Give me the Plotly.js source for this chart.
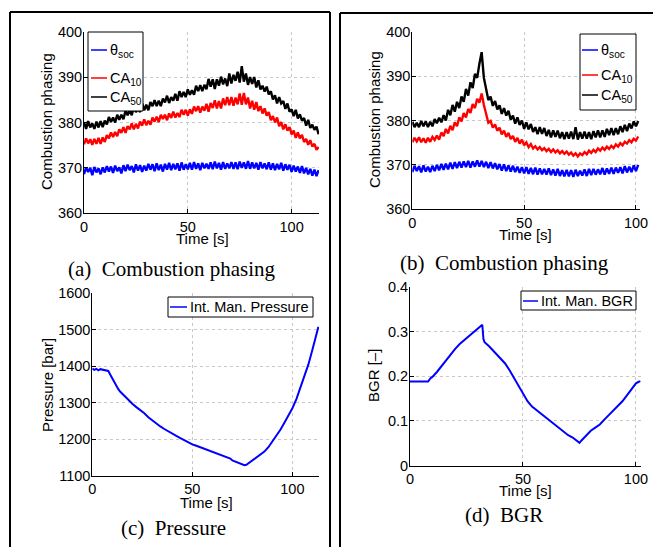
<!DOCTYPE html>
<html>
<head>
<meta charset="utf-8">
<script src="https://cdn.plot.ly/plotly-3.0.1.min.js"></script>
<style>html,body{margin:0;padding:0;background:#fff;}#chart{width:653px;height:547px;}</style>
</head>
<body>
<div id="chart"></div>
<script>
// ---------- DATA ----------
// (a) sampled every 1 s, t = 0..113
const socA = [368.6,370.1,369.1,370.0,368.4,370.2,369.0,369.9,368.6,370.1,
369.0,370.4,369.2,370.3,368.9,370.5,369.3,370.1,368.8,370.6,
369.3,370.7,369.5,370.4,369.0,370.8,369.4,370.6,369.1,370.5,
369.4,370.9,369.6,370.8,369.3,371.0,369.5,370.7,369.2,370.9,
369.6,371.1,369.5,370.9,369.7,371.0,369.4,371.2,369.6,370.8,
369.7,371.1,369.6,371.3,369.8,371.0,369.5,371.1,369.9,370.9,
369.8,371.2,369.7,371.4,369.9,371.1,369.6,371.3,369.8,371.0,
369.9,371.3,369.8,371.2,369.7,371.4,370.0,371.2,369.8,371.5,
369.8,371.2,369.9,371.1,369.6,371.3,369.9,371.0,369.7,371.2,
369.6,371.0,369.5,370.9,369.7,371.1,369.4,370.8,369.6,370.7,
369.1,370.5,369.2,370.3,368.9,370.4,368.8,370.0,368.6,369.8,
368.3,369.6,368.2,369.5];
const ca10A = [375.2,376.5,375.4,376.3,375.1,376.4,375.3,376.6,375.3,376.7,
375.7,377.2,376.5,377.8,376.8,377.9,377.0,378.5,377.7,379.0,
377.7,379.2,378.5,379.8,378.5,379.7,378.7,380.2,379.3,380.7,
379.4,380.4,379.5,381.1,380.2,381.3,380.1,381.7,380.8,381.7,
380.5,382.0,381.0,382.4,381.1,382.1,381.2,382.8,381.7,382.8,
381.5,382.9,381.9,383.5,382.5,383.6,382.2,383.5,382.6,384.1,
382.4,384.3,383.2,384.9,383.1,384.7,383.1,385.3,383.8,385.6,
383.8,385.6,383.7,385.5,384.0,386.4,383.9,386.5,384.0,385.5,
383.1,384.8,382.8,384.5,382.5,383.6,382.0,383.1,381.5,382.3,
380.5,381.4,380.0,381.1,379.2,380.1,378.5,379.6,378.2,379.0,
377.4,378.2,376.6,377.8,376.5,377.3,375.7,376.4,375.1,376.1,
374.7,375.3,374.0,374.6];
const ca50A = [380.1,378.6,380.3,378.9,379.8,378.6,380.2,378.9,380.3,379.0,
380.4,379.6,381.2,380.1,381.1,380.0,381.7,380.6,381.7,380.7,
382.6,381.6,382.8,381.6,383.5,382.3,383.1,382.3,384.2,382.7,
383.9,382.7,384.5,383.6,384.9,383.6,384.8,383.6,385.3,384.4,
385.9,384.3,385.6,384.8,386.3,384.8,386.9,385.6,386.7,385.6,
387.3,386.1,387.1,386.1,388.1,386.9,388.2,386.9,388.3,387.3,
389.6,387.9,389.5,387.4,389.5,388.1,390.1,388.4,389.7,388.0,
390.8,388.6,390.5,389.2,391.2,388.8,392.4,389.0,390.8,388.3,
390.0,388.5,390.0,387.7,389.3,387.3,388.1,386.8,387.9,386.2,
386.9,385.1,386.0,384.2,385.6,384.2,384.7,383.0,384.2,382.4,
382.9,381.4,382.8,380.9,381.8,380.4,381.0,379.3,380.6,378.8,
379.5,378.4,379.1,377.4];
// (b) sampled every 1 s, t = 0..101
const socB = [368.4,369.8,368.6,369.7,368.3,369.9,368.5,369.6,368.4,369.8,
368.6,370.0,368.8,370.2,368.9,370.3,369.0,370.5,369.1,370.6,
369.3,370.7,369.4,370.8,369.5,370.9,369.4,370.8,369.6,371.0,
369.6,370.9,369.5,370.7,369.3,370.6,369.2,370.4,369.0,370.2,
368.7,370.1,368.6,369.9,368.5,369.8,368.4,369.6,368.2,369.5,
368.1,369.5,368.0,369.3,367.9,369.4,367.8,369.2,367.9,369.1,
367.8,369.2,367.7,369.0,367.6,369.1,367.5,368.8,367.4,368.9,
367.4,368.8,367.3,368.9,367.5,368.7,367.6,369.0,367.5,369.1,
367.7,369.1,367.8,369.0,367.9,369.3,367.8,369.2,368.0,369.4,
368.0,369.4,368.2,369.5,368.1,369.7,368.3,369.6,368.4,369.9,
368.6,370.0];
const ca10B = [375.1,376.1,375.3,376.2,375.1,376.0,375.0,376.1,375.2,376.3,
375.6,376.6,375.7,377.3,376.5,378.1,377.1,378.8,377.8,379.6,
378.7,380.7,379.8,381.7,380.7,382.6,381.7,383.7,382.8,384.9,
384.0,386.1,383.5,381.2,379.5,379.9,378.4,379.1,377.7,378.4,
376.9,377.7,376.3,377.2,375.8,376.5,375.2,376.1,374.8,375.7,
374.4,375.1,374.0,374.7,373.7,374.2,373.5,374.0,373.3,373.8,
373.1,373.6,372.9,373.5,372.8,373.3,372.6,373.1,372.5,373.0,
372.3,372.8,372.1,372.6,371.9,372.6,372.2,372.9,372.4,373.2,
372.7,373.4,372.9,373.7,373.2,373.9,373.4,374.1,373.6,374.3,
373.8,374.6,374.1,374.9,374.4,375.2,374.8,375.6,375.1,375.9,
375.5,376.4];
const ca50B = [379.7,378.5,379.5,378.5,379.9,378.7,379.8,378.5,379.7,378.7,
380.3,379.4,380.6,379.6,381.2,380.0,382.4,381.2,383.5,382.0,
384.2,382.8,385.4,384.2,387.1,385.6,388.6,387.3,390.5,389.6,
392.8,395.4,389.6,386.9,384.6,385.4,383.3,384.4,382.5,383.4,
381.5,382.8,381.1,382.2,380.2,381.1,379.3,380.7,379.0,380.0,
378.1,379.6,378.0,379.2,377.4,378.5,376.9,378.5,377.0,378.3,
376.5,377.9,376.2,377.8,376.3,377.7,376.0,377.4,375.8,377.4,
375.9,377.5,375.8,378.5,375.7,377.4,375.9,377.5,375.9,377.4,
375.8,377.6,376.2,377.8,376.2,377.8,376.3,378.1,376.7,378.3,
376.7,378.3,376.9,378.7,377.4,379.0,377.6,379.3,378.2,379.8,
378.7,379.9];
// (c) intake manifold pressure
const timeC = [0,1,2,3,4,5,6,7,8,9,10,11,12,13,14,16,18,20,22,24,26,28,30,32,34,36,38,40,42,44,46,48,50,52,54,56,58,60,62,64,66,68,69,70,72,74,76,77,78,80,82,84,86,88,90,92,94,96,98,100,102,104,106,108,110,111,112,113];
const pressC = [1394,1390,1393,1389,1392,1391,1390,1390,1387,1377,1366,1356,1346,1337,1330,1318,1307,1297,1288,1280,1271,1260,1251,1244,1235,1228,1221,1214,1209,1203,1197,1191,1186,1182,1178,1174,1170,1166,1162,1157,1153,1151,1147,1142,1137,1133,1129,1130,1134,1141,1148,1156,1166,1178,1193,1208,1226,1245,1264,1285,1310,1340,1372,1405,1445,1466,1487,1508];
// (d) intake manifold BGR
const timeD = [0,2,4,6,8,9,10,12,14,16,18,20,22,24,26,28,30,31,32,32.5,33,35,38,40,42,44,46,48,50,52,54,56,58,60,62,64,66,68,70,72,74,75,76,78,80,82,84,86,88,90,92,94,96,98,100,101,102];
const bgrD = [0.188,0.188,0.187,0.188,0.188,0.195,0.199,0.210,0.223,0.236,0.248,0.261,0.272,0.281,0.289,0.297,0.306,0.311,0.315,0.283,0.276,0.267,0.251,0.241,0.229,0.214,0.197,0.180,0.161,0.144,0.132,0.124,0.116,0.109,0.101,0.093,0.085,0.076,0.068,0.063,0.055,0.051,0.057,0.068,0.078,0.085,0.092,0.103,0.113,0.124,0.134,0.144,0.157,0.172,0.184,0.187,0.189];

const legendPhasing = ['θ<sub>soc</sub>', 'CA<sub>10</sub>', 'CA<sub>50</sub>'];
const legendPressure = 'Int. Man. Pressure';
const legendBGR = 'Int. Man. BGR';
const captions = ['(a)  Combustion phasing', '(b)  Combustion phasing', '(c)  Pressure', '(d)  BGR'];

// ---------- LAYOUT HELPERS ----------
const W = 653, H = 547;
const fx = p => p / W;
const fy = p => 1 - p / H;
const secs = n => Array.from({length: n}, (_, i) => i);

const BLUE = '#0000ff', RED = '#ff0000', BLACK = '#000000';
const SANS = 'Liberation Sans, Arial, Helvetica, sans-serif';
const SERIF = 'Liberation Serif, Times New Roman, serif';

function line(x, y, color, w, xa, ya) {
  return {type: 'scatter', mode: 'lines', x: x, y: y, xaxis: xa, yaxis: ya,
          line: {color: color, width: w}, hoverinfo: 'skip', showlegend: false};
}

const tA = secs(socA.length), tB = secs(socB.length);
const NW = 2.4;
const data = [
  line(tA, socA, BLUE, NW, 'x', 'y'),
  line(tA, ca10A, RED, NW, 'x', 'y'),
  line(tA, ca50A, BLACK, NW, 'x', 'y'),
  line(tB, socB, BLUE, NW, 'x2', 'y2'),
  line(tB, ca10B, RED, NW, 'x2', 'y2'),
  line(tB, ca50B, BLACK, NW, 'x2', 'y2'),
  line(timeC, pressC, BLUE, 2, 'x3', 'y3'),
  line(timeD, bgrD, BLUE, 2, 'x4', 'y4')
];

function ax(domain, range, dtick, anchor, isY) {
  return {domain: domain, range: range, dtick: dtick, tick0: 0, anchor: anchor,
          showline: true, linecolor: '#000', linewidth: 1, mirror: false,
          ticks: 'inside', ticklen: 4, tickcolor: '#000', tickwidth: 1,
          ticklabelstandoff: isY ? -2 : 0,
          showgrid: true, gridcolor: '#c8c8c8', griddash: 'dot', gridwidth: 1,
          zeroline: false, fixedrange: true,
          tickfont: {family: SANS, size: 14.5, color: '#000'}};
}

const layout = {
  width: W, height: H, margin: {l: 0, r: 0, t: 0, b: 0},
  paper_bgcolor: '#fff', plot_bgcolor: '#fff', showlegend: false,
  xaxis:  ax([fx(84), fx(319)], [0, 113.2], 50, 'y'),
  yaxis:  ax([fy(213.3), fy(31.7)], [360, 400], 10, 'x', true),
  xaxis2: ax([fx(412.3), fx(640)], [0, 101.8], 50, 'y2'),
  yaxis2: ax([fy(209.3), fy(31.7)], [360, 400], 10, 'x2', true),
  xaxis3: ax([fx(92.3), fx(319)], [0, 113.3], 50, 'y3'),
  yaxis3: ax([fy(475.7), fy(293.3)], [1100, 1600], 100, 'x3', true),
  xaxis4: ax([fx(410), fx(640.7)], [0, 102.1], 50, 'y4'),
  yaxis4: ax([fy(465.7), fy(286.7)], [0, 0.4], 0.1, 'x4', true),
  shapes: [], annotations: []
};

function text(t, x, y, opts) {
  layout.annotations.push(Object.assign({text: t, x: fx(x), y: fy(y), xref: 'paper', yref: 'paper',
    showarrow: false, xanchor: 'center', yanchor: 'middle',
    font: {family: SANS, size: 15, color: '#000'}}, opts || {}));
}
function seg(x0, y0, x1, y1, color, w) {
  layout.shapes.push({type: 'line', xref: 'paper', yref: 'paper', x0: fx(x0), y0: fy(y0), x1: fx(x1), y1: fy(y1),
    line: {color: color, width: w}});
}
function box(x0, y0, x1, y1) {
  layout.shapes.push({type: 'rect', xref: 'paper', yref: 'paper', x0: fx(x0), y0: fy(y1), x1: fx(x1), y1: fy(y0),
    line: {color: '#000', width: 1}, fillcolor: '#fff', layer: 'above'});
}

// figure frames
seg(10, 548, 10, 12, '#000', 2); seg(10, 12, 330, 12, '#000', 2); seg(330, 12, 330, 548, '#000', 2);
seg(340, 548, 340, 13, '#000', 2); seg(340, 13, 660, 13, '#000', 2);

// axis titles
text('Time [s]', 202, 239);
text('Time [s]', 525, 234);
text('Time [s]', 206, 502);
text('Time [s]', 525, 490);
text('Combustion phasing', 47, 122, {textangle: -90});
text('Combustion phasing', 375, 120, {textangle: -90});
text('Pressure [bar]', 47, 385, {textangle: -90});
text('BGR [–]', 373, 376, {textangle: -90});

// captions
const capFont = {family: SERIF, size: 21, color: '#000'};
text(captions[0], 172, 269, {font: capFont});
text(captions[1], 504, 263, {font: capFont});
text(captions[2], 173, 528, {font: capFont});
text(captions[3], 504, 515, {font: capFont});

// legends
const legFont = {family: SANS, size: 14.5, color: '#000'};
const colorsPh = [BLUE, RED, BLACK];
box(88, 32, 143, 111);
[50, 78, 97].forEach((yy, i) => { seg(91, yy, 107, yy, colorsPh[i], 1.5); text(legendPhasing[i], 107.5, yy + 1, {xanchor: 'left', font: legFont}); });
box(580, 34, 636, 110);
[50, 75, 95].forEach((yy, i) => { seg(582, yy, 598, yy, colorsPh[i], 1.5); text(legendPhasing[i], 598.5, yy + 1, {xanchor: 'left', font: legFont}); });
box(168, 297, 313, 317);
seg(170, 307, 187, 307, BLUE, 1.5); text(legendPressure, 188, 307, {xanchor: 'left', font: legFont});
box(521, 291, 636, 310);
seg(523, 301, 538, 301, BLUE, 1.5); text(legendBGR, 539, 301, {xanchor: 'left', font: legFont});

Plotly.newPlot('chart', data, layout, {staticPlot: true, displayModeBar: false});
</script>
</body>
</html>
